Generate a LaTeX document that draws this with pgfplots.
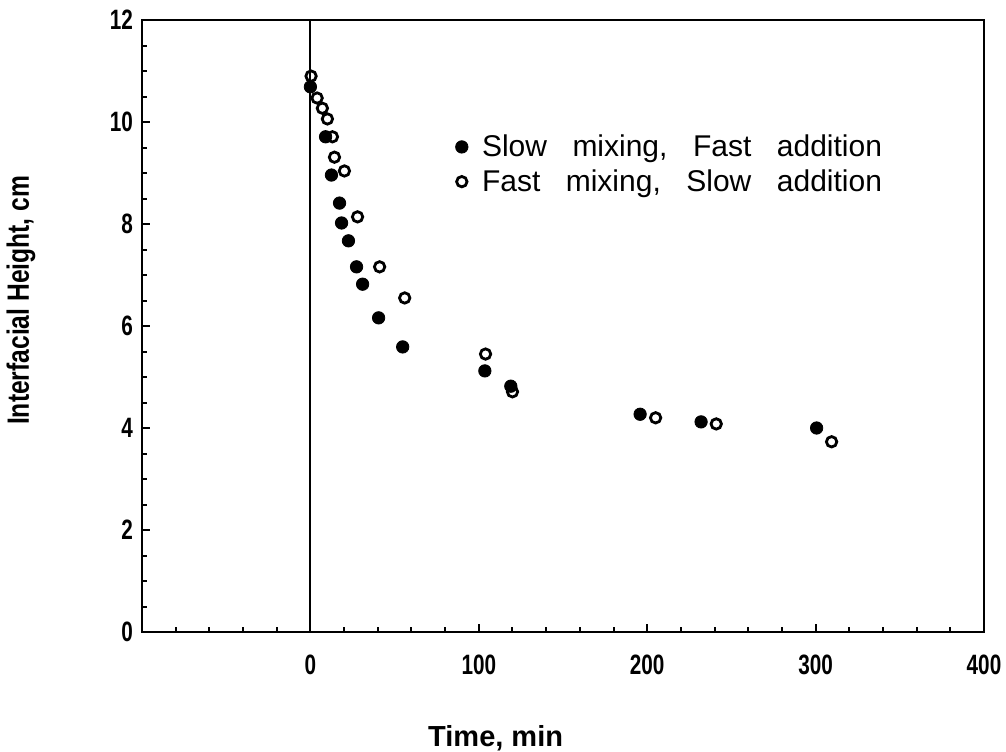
\documentclass[border=0pt]{standalone}
\usepackage{pgfplots}
\pgfplotsset{compat=1.18}
\usepackage{fontspec}
\setmainfont{Liberation Sans}
\newfontfamily\tickfont[FakeStretch=0.74]{Liberation Sans}
\newfontfamily\ylabfont[FakeStretch=0.8]{Liberation Sans}
\begin{document}
\begin{tikzpicture}
\begin{axis}[
  name=ax,
  scale only axis,
  width=421pt, height=306pt,
  xmin=-100, xmax=400, ymin=0, ymax=12,
  axis line style={line width=1.3pt},
  xtick={0,100,200,300,400},
  minor xtick={-100,-80,...,400},
  ytick={0,2,...,12},
  minor ytick={0,0.5,...,12},
  tick align=inside,
  xtick pos=bottom, ytick pos=left,
  major tick length=4pt, minor tick length=2.5pt,
  every tick/.style={line width=1pt, black},
  /pgf/number format/assume math mode=true,
  tick label style={font=\tickfont\bfseries\fontsize{14}{16}\selectfont},
  xticklabel style={yshift=-8pt},
  yticklabel style={xshift=-1pt},
  xlabel={Time, min},
  ylabel={Interfacial Height, cm},
  xlabel style={at={(axis description cs:0.42,0)}, anchor=center, yshift=-53pt, font=\bfseries\fontsize{14.5}{16}\selectfont},
  ylabel style={at={(axis description cs:-0.1437,0.542)}, anchor=center, font=\ylabfont\bfseries\fontsize{15.4}{17}\selectfont},
  legend style={draw=none, fill=none, at={(axis description cs:0.372,0.82)}, anchor=north west,
    inner sep=0pt, row sep=1pt, font=\fontsize{15}{17}\selectfont},
  legend cell align=left,
]
\addplot[black, line width=1pt, forget plot] coordinates {(0,0) (0,12)};
\addplot[only marks, mark=*, mark size=3.1pt, black, mark options={fill=black}] coordinates {
(0,10.69) (9,9.71) (12.5,8.96) (17.3,8.41) (18.5,8.02) (22.6,7.67) (27.4,7.16) (31,6.82)
(40.5,6.16) (54.8,5.59) (103.6,5.12) (119,4.82) (195.8,4.27) (232,4.12) (300.6,4.0)
};
\addlegendentry{\hspace{5pt}Slow\hspace{0.85em}mixing,\hspace{0.85em}Fast\hspace{0.85em}addition}
\addplot[only marks, mark=o, mark size=2.6pt, black, mark options={line width=1.4pt, fill=white}] coordinates {
(0.4,10.9) (4,10.47) (7.1,10.27) (10.1,10.06) (13.1,9.71) (14.3,9.31) (20.2,9.04) (28,8.14)
(41.1,7.16) (56,6.55) (104,5.45) (120,4.71) (205,4.2) (241,4.08) (309.5,3.73)
};
\addlegendentry{\hspace{5pt}Fast\hspace{0.85em}mixing,\hspace{0.85em}Slow\hspace{0.85em}addition}
\end{axis}
\pgfresetboundingbox
\path ([shift={(-71pt,-59.5pt)}]ax.south west) rectangle ([shift={(11pt,10pt)}]ax.north east);
\end{tikzpicture}
\end{document}
